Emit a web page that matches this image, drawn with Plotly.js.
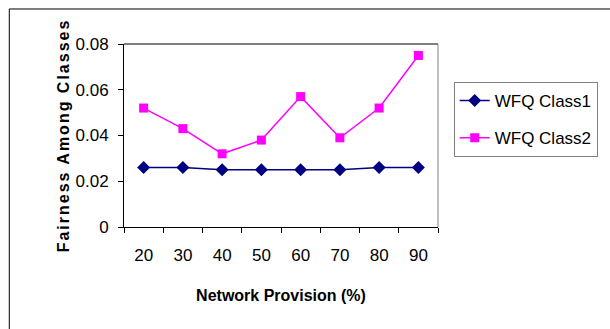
<!DOCTYPE html>
<html>
<head>
<meta charset="utf-8">
<script src="https://cdn.plot.ly/plotly-3.0.1.min.js"></script>
<style>
  html, body { margin: 0; padding: 0; background: #fff; }
  #chart { width: 610px; height: 329px; }
  /* spaced-out lettering for the vertical axis title */
  .ytitle { letter-spacing: 2px; }
</style>
</head>
<body>
<div id="chart"></div>
<script>
// Network provision levels (%) on the category axis
const provision = ['20', '30', '40', '50', '60', '70', '80', '90'];
// Fairness among classes for each WFQ class
const wfqClass1 = [0.026, 0.026, 0.025, 0.025, 0.025, 0.025, 0.026, 0.026];
const wfqClass2 = [0.052, 0.043, 0.032, 0.038, 0.057, 0.039, 0.052, 0.075];
const yTicks = [0, 0.02, 0.04, 0.06, 0.08];
const yTickText = ['0', '0.02', '0.04', '0.06', '0.08'];

const FONT = 'Arial, "Liberation Sans", sans-serif';

const traces = [
  {
    x: provision, y: wfqClass1, name: 'WFQ Class1', legendgroup: 'c1',
    type: 'scatter', mode: 'lines+markers',
    line: { color: '#000080', width: 1.5 },
    marker: { symbol: 'diamond', size: 10, color: '#000080' }
  },
  {
    x: provision, y: wfqClass2, name: 'WFQ Class2', legendgroup: 'c2',
    type: 'scatter', mode: 'lines+markers',
    line: { color: '#FF00FF', width: 1.5 },
    marker: { symbol: 'square', size: 9, color: '#FF00FF' }
  }
];

const layout = {
  width: 610, height: 329,
  margin: { l: 124, r: 163, t: 44, b: 102 },
  paper_bgcolor: '#fff', plot_bgcolor: '#fff',
  font: { family: FONT, color: '#000', size: 17 },
  showlegend: true,
  legend: {
    x: 1.05, y: 0.792, xanchor: 'left', yanchor: 'top',
    bordercolor: '#808080', borderwidth: 1, bgcolor: '#fff',
    font: { family: FONT, size: 17, color: '#000' },
    tracegroupgap: 12
  },
  xaxis: {
    type: 'category', categoryorder: 'array', categoryarray: provision,
    range: [-0.5, provision.length - 0.5],
    showgrid: false, zeroline: false,
    showline: true, linecolor: '#000', linewidth: 1,
    ticks: 'outside', tickson: 'boundaries', ticklen: 5, tickcolor: '#000',
    ticklabelstandoff: 13,
    tickfont: { family: FONT, size: 17 },
    title: { text: 'Network Provision (%)', font: { family: FONT, size: 16, weight: 'bold' }, standoff: 25 },
    automargin: false, fixedrange: true
  },
  yaxis: {
    range: [0, 0.08],
    tickvals: yTicks, ticktext: yTickText,
    showgrid: false, zeroline: false,
    showline: true, linecolor: '#000', linewidth: 1,
    ticks: 'outside', ticklen: 5, tickcolor: '#000',
    ticklabelstandoff: 6,
    tickfont: { family: FONT, size: 17 },
    title: { text: 'Fairness Among Classes', font: { family: FONT, size: 16, weight: 'bold' }, standoff: 1 },
    automargin: false, fixedrange: true
  },
  shapes: [
    // top edge of the plot area
    { type: 'line', xref: 'paper', yref: 'paper', x0: 0, x1: 1, y0: 1, y1: 1,
      line: { color: '#000', width: 1 } },
    // right edge of the plot area
    { type: 'line', xref: 'paper', yref: 'paper', x0: 1, x1: 1, y0: 0, y1: 1,
      line: { color: '#808080', width: 1 } },
    // outer chart frame
    { type: 'rect', xref: 'paper', yref: 'paper', x0: -0.3653, x1: 1.9, y0: -1.2, y1: 1.1913,
      line: { color: '#000', width: 1 }, fillcolor: 'rgba(0,0,0,0)', layer: 'below' }
  ]
};

Plotly.newPlot('chart', traces, layout, { displayModeBar: false, staticPlot: true });
</script>
</body>
</html>
